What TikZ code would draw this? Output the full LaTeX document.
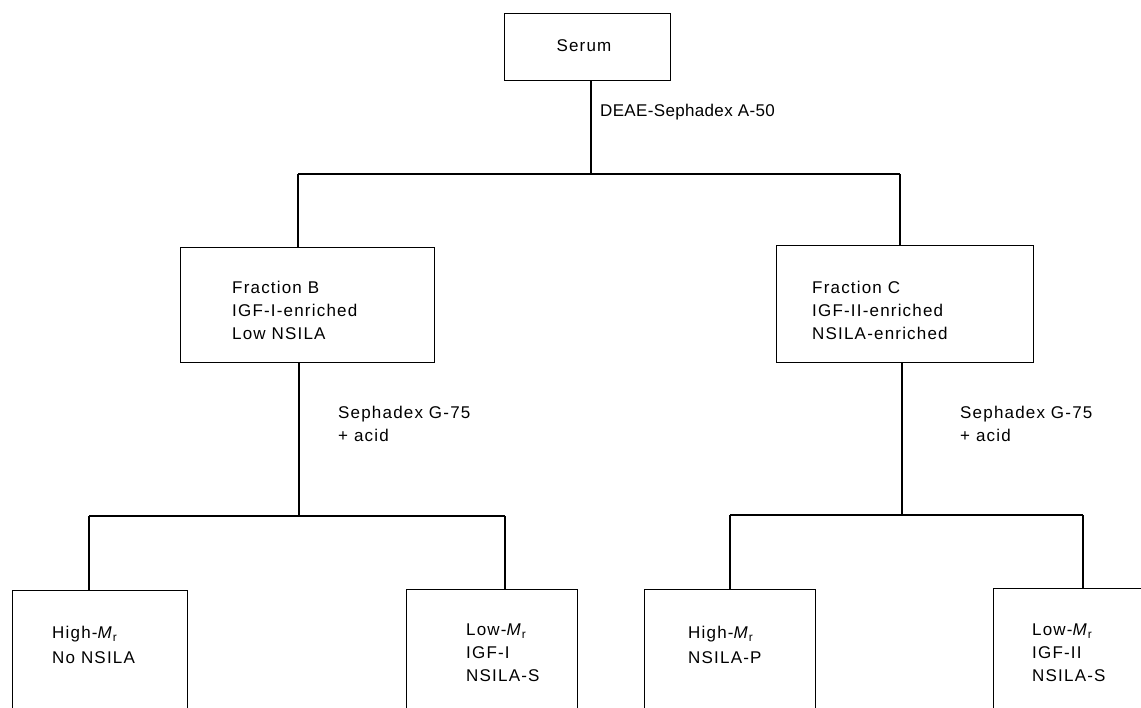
\documentclass[tikz,border=0pt]{standalone}
\usepackage{fontspec}
\setmainfont[LetterSpace=7]{Liberation Sans}
\newfontfamily\tightsans[LetterSpace=2]{Liberation Sans}
\begin{document}
\begin{tikzpicture}[x=1pt,y=-1pt,
  box/.style={draw,line width=1.4pt,inner sep=0pt,anchor=north west},
  txt/.style={inner sep=0pt,anchor=north west,align=left,font=\fontsize{17}{23}\selectfont},
  conn/.style={line width=1.4pt}]
\useasboundingbox (0,0) rectangle (1141,708);
\clip (0,0) rectangle (1141,708);
% boxes
\node[box,minimum width=166pt,minimum height=67pt] (serum) at (504,13) {};
\node[txt,anchor=center] (serumt) at (584,46) {Serum};
\node[box,minimum width=254pt,minimum height=115pt] (fb) at (180,247) {};
\node[txt] (fbt) at (232,281) {Fraction B\\IGF-I-enriched\\Low NSILA};
\node[box,minimum width=257pt,minimum height=117pt] (fc) at (776,245) {};
\node[txt] (fct) at (812,281) {Fraction C\\IGF-II-enriched\\NSILA-enriched};
\node[box,minimum width=175pt,minimum height=140pt] (b1) at (12,590) {};
\node[txt,font=\fontsize{17}{25}\selectfont] (b1t) at (52,626) {High-\textit{M}\textsubscript{r}\\No NSILA};
\node[box,minimum width=171pt,minimum height=140pt] (b2) at (406,589) {};
\node[txt] (b2t) at (466,624) {Low-\textit{M}\textsubscript{r}\\IGF-I\\NSILA-S};
\node[box,minimum width=171pt,minimum height=140pt] (b3) at (644,589) {};
\node[txt,font=\fontsize{17}{25}\selectfont] (b3t) at (688,626) {High-\textit{M}\textsubscript{r}\\NSILA-P};
\node[box,minimum width=180pt,minimum height=140pt] (b4) at (993,588) {};
\node[txt] (b4t) at (1032,624) {Low-\textit{M}\textsubscript{r}\\IGF-II\\NSILA-S};
% junction coordinates
\coordinate (j0) at (591,174);
\coordinate (jl) at (298,174);
\coordinate (jr) at (900,174);
\coordinate (k1) at (299,516);
\coordinate (k1l) at (89,516);
\coordinate (k1r) at (505,516);
\coordinate (k2) at (902,515);
\coordinate (k2l) at (730,515);
\coordinate (k2r) at (1083,515);
% connectors
\draw[conn] (serum.south -| j0) -- (j0);
\draw[conn] (jl) -- (jr);
\draw[conn] (jl) -- (jl |- fb.north);
\draw[conn] (jr) -- (jr |- fc.north);
\draw[conn] (fb.south -| k1) -- (k1);
\draw[conn] (k1l) -- (k1r);
\draw[conn] (k1l) -- (k1l |- b1.north);
\draw[conn] (k1r) -- (k1r |- b2.north);
\draw[conn] (fc.south -| k2) -- (k2);
\draw[conn] (k2l) -- (k2r);
\draw[conn] (k2l) -- (k2l |- b3.north);
\draw[conn] (k2r) -- (k2r |- b4.north);
% labels
\node[txt,font=\fontsize{17}{23}\tightsans] (l1) at (600,104) {DEAE-Sephadex A-50};
\node[txt] (l2) at (338,406) {Sephadex G-75\\+ acid};
\node[txt] (l3) at (960,406) {Sephadex G-75\\+ acid};
\end{tikzpicture}
\end{document}
